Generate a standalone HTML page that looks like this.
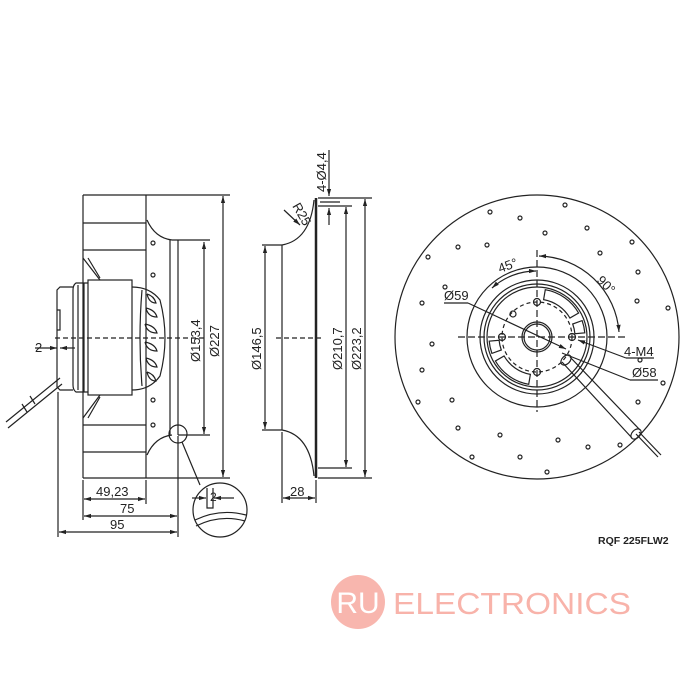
<!DOCTYPE html>
<html><head><meta charset="utf-8"><style>
html,body{margin:0;padding:0;background:#fff;}
svg{display:block}
text{font-family:"Liberation Sans",Arial,sans-serif;fill:#222}
</style></head><body>
<svg width="700" height="700" viewBox="0 0 700 700" xmlns="http://www.w3.org/2000/svg">
<defs>
<marker id="a" viewBox="0 0 10 10" refX="10" refY="5" markerWidth="6" markerHeight="6" orient="auto-start-reverse"><path d="M0,2 L10,5 L0,8 z" fill="#222"/></marker>
</defs>
<g stroke="#222" fill="none" stroke-width="1.2">
<!-- LEFT SIDE VIEW -->
<line x1="83" y1="195" x2="83" y2="478"/>
<line x1="146" y1="195" x2="146" y2="478"/>
<line x1="83" y1="195" x2="230" y2="195"/>
<line x1="83" y1="478" x2="230" y2="478"/>
<line x1="83" y1="223" x2="146" y2="223"/>
<line x1="83" y1="250" x2="146" y2="250"/>
<line x1="83" y1="425" x2="146" y2="425"/>
<line x1="83" y1="452" x2="146" y2="452"/>
<path d="M147,220 Q155,238 172,240"/>
<path d="M147,455 Q155,437 172,435"/>
<line x1="170" y1="240" x2="170" y2="435"/>
<line x1="178" y1="240" x2="178" y2="435"/>
<line x1="172" y1="240" x2="210" y2="240"/>
<line x1="178" y1="435" x2="210" y2="435"/>
<path d="M83,258 L100,280 M88,258 L100,278"/>
<path d="M83,418 L100,395 M88,418 L100,397"/>
<!-- motor -->
<rect x="88" y="280" width="44" height="115"/>
<path d="M88,283 L76,283 Q73,285 73,290 L73,385 Q73,390 76,392 L88,392"/>
<line x1="78" y1="285" x2="78" y2="390"/>
<line x1="84" y1="283" x2="84" y2="392"/>
<path d="M73,287 L60,287 L57,290 L57,387 L60,390 L73,390"/>
<path d="M57,310 L60,310 L60,330 L57,330"/>
<path d="M132,287 Q150,287 160,300 Q170,338 160,376 Q150,390 132,390"/>
<path d="M142,290 Q138,338 142,386"/>
<path d="M147,294 q7,2 9,9 q-7,0 -9,-9 M146,308 q9,2 11,9 q-9,0 -11,-9 M145,324 q10,2 12,9 q-10,0 -12,-9 M145,342 q10,2 12,9 q-10,0 -12,-9 M146,358 q9,2 11,9 q-9,0 -11,-9 M147,372 q7,2 9,9 q-7,0 -9,-9"/>
<!-- cable -->
<path d="M60,378 L6,422 M62,384 L8,428"/>
<path d="M30,396 l5,8 M22,404 l5,8"/>
<line x1="55" y1="338" x2="205" y2="338" stroke-dasharray="5,3"/>
<!-- dims left -->
<line x1="204" y1="242" x2="204" y2="434" marker-start="url(#a)" marker-end="url(#a)"/>
<line x1="223" y1="196" x2="223" y2="477" marker-start="url(#a)" marker-end="url(#a)"/>
<line x1="83" y1="480" x2="83" y2="520"/>
<line x1="58" y1="392" x2="58" y2="537"/>
<line x1="146" y1="480" x2="146" y2="504"/>
<line x1="178" y1="436" x2="178" y2="537"/>
<line x1="84" y1="499" x2="145" y2="499" marker-start="url(#a)" marker-end="url(#a)"/>
<line x1="84" y1="516" x2="177" y2="516" marker-start="url(#a)" marker-end="url(#a)"/>
<line x1="59" y1="532" x2="177" y2="532" marker-start="url(#a)" marker-end="url(#a)"/>
<line x1="35" y1="348" x2="57" y2="348" marker-end="url(#a)"/>
<line x1="75" y1="348" x2="60" y2="348" marker-end="url(#a)"/>
<circle cx="178" cy="434" r="9"/>
<line x1="182" y1="442" x2="200" y2="485"/>
<circle cx="220" cy="510" r="27"/>
<path d="M207,488 L207,508 L213,508 L213,488"/>
<path d="M195,520 Q220,508 246,515"/>
<path d="M196,526 Q220,514 245,521"/>
<line x1="192" y1="498" x2="206" y2="498" marker-end="url(#a)"/>
<line x1="234" y1="498" x2="214" y2="498" marker-end="url(#a)"/>
<!-- MIDDLE INLET -->
<line x1="316" y1="198" x2="316" y2="478" stroke-width="2.5"/>
<path d="M314,200 Q310,240 282,245"/>
<path d="M314,476 Q310,435 282,430"/>
<line x1="282" y1="245" x2="282" y2="430"/>
<line x1="262" y1="245" x2="282" y2="245"/>
<line x1="262" y1="430" x2="282" y2="430"/>
<line x1="265" y1="246" x2="265" y2="429" marker-start="url(#a)" marker-end="url(#a)"/>
<line x1="318" y1="198" x2="372" y2="198"/>
<line x1="318" y1="206" x2="352" y2="206"/>
<line x1="318" y1="468" x2="352" y2="468"/>
<line x1="318" y1="478" x2="372" y2="478"/>
<line x1="346" y1="207" x2="346" y2="467" marker-start="url(#a)" marker-end="url(#a)"/>
<line x1="365" y1="199" x2="365" y2="477" marker-start="url(#a)" marker-end="url(#a)"/>
<line x1="276" y1="338" x2="322" y2="338" stroke-dasharray="5,3"/>
<line x1="282" y1="432" x2="282" y2="503"/>
<line x1="316" y1="480" x2="316" y2="503"/>
<line x1="283" y1="498" x2="315" y2="498" marker-start="url(#a)" marker-end="url(#a)"/>
<line x1="329" y1="150" x2="329" y2="196" marker-end="url(#a)"/>
<line x1="329" y1="225" x2="329" y2="208" marker-end="url(#a)"/>
<line x1="320" y1="202" x2="340" y2="202"/>
<line x1="284" y1="210" x2="300" y2="225" marker-end="url(#a)"/>
<!-- RIGHT FRONT VIEW -->
<circle cx="537" cy="337" r="142"/>
<circle cx="537" cy="337" r="70"/>
<circle cx="537" cy="337" r="57"/>
<circle cx="537" cy="337" r="53"/>
<circle cx="537" cy="337" r="50"/>
<circle cx="537" cy="337" r="15"/>
<circle cx="537" cy="337" r="13"/>
<circle cx="537" cy="337" r="35" stroke-dasharray="4,3"/>
<circle cx="537" cy="302" r="3.5"/><circle cx="537" cy="372" r="3.5"/>
<circle cx="502" cy="337" r="3.5"/><circle cx="572" cy="337" r="3.5"/>
<path d="M545.3,289.7 A48,48 0 0 1 578.6,313 L569.9,318 A38,38 0 0 0 543.6,299.6 Z"/>
<path d="M582.1,320.6 A48,48 0 0 1 584.8,332.8 L574.9,333.7 A38,38 0 0 0 572.7,324 Z"/>
<path d="M528.7,384.3 A48,48 0 0 1 495.4,361 L504.1,356 A38,38 0 0 0 530.4,374.4 Z"/>
<path d="M491.9,353.4 A48,48 0 0 1 489.2,341.2 L499.1,340.3 A38,38 0 0 0 501.3,350 Z"/>
<circle cx="513" cy="314" r="3"/>
<line x1="458" y1="337" x2="625" y2="337" stroke-dasharray="7,3"/>
<line x1="537" y1="250" x2="537" y2="412" stroke-dasharray="7,3"/>
<path d="M539,256 A82,82 0 0 1 619,332" marker-start="url(#a)" marker-end="url(#a)"/>
<path d="M492,288 A66,66 0 0 1 536,271" marker-start="url(#a)" marker-end="url(#a)"/>
<line x1="444" y1="303" x2="468" y2="303"/>
<line x1="468" y1="303" x2="566" y2="349" marker-end="url(#a)"/>
<line x1="654" y1="358" x2="626" y2="358"/>
<line x1="626" y1="358" x2="578" y2="340" marker-end="url(#a)"/>
<line x1="658" y1="380" x2="630" y2="380"/>
<line x1="630" y1="380" x2="562" y2="353"/>
<path d="M562,362 L632,438 M570,357 L640,430"/>
<ellipse cx="566" cy="360" rx="6" ry="4" transform="rotate(-45 566 360)"/>
<ellipse cx="636" cy="434" rx="6" ry="4" transform="rotate(-45 636 434)"/>
<path d="M636,434 L658,457 M639,432 L661,455"/>
</g>
<g fill="none" stroke="#222" stroke-width="1.2">
<circle r="2" cx="565" cy="205"/><circle r="2" cx="490" cy="212"/><circle r="2" cx="520" cy="218"/>
<circle r="2" cx="587" cy="228"/><circle r="2" cx="545" cy="233"/><circle r="2" cx="632" cy="242"/>
<circle r="2" cx="458" cy="247"/><circle r="2" cx="487" cy="245"/><circle r="2" cx="600" cy="253"/>
<circle r="2" cx="428" cy="257"/><circle r="2" cx="638" cy="272"/><circle r="2" cx="445" cy="287"/>
<circle r="2" cx="422" cy="303"/><circle r="2" cx="637" cy="301"/><circle r="2" cx="668" cy="308"/>
<circle r="2" cx="432" cy="344"/><circle r="2" cx="640" cy="360"/><circle r="2" cx="422" cy="370"/>
<circle r="2" cx="663" cy="383"/><circle r="2" cx="452" cy="400"/><circle r="2" cx="638" cy="402"/>
<circle r="2" cx="418" cy="402"/><circle r="2" cx="458" cy="428"/><circle r="2" cx="500" cy="435"/>
<circle r="2" cx="558" cy="440"/><circle r="2" cx="588" cy="447"/><circle r="2" cx="620" cy="445"/>
<circle r="2" cx="472" cy="457"/><circle r="2" cx="520" cy="457"/><circle r="2" cx="547" cy="472"/>
<circle r="2" cx="153" cy="243"/><circle r="2" cx="153" cy="275"/><circle r="2" cx="153" cy="400"/>
<circle r="2" cx="153" cy="425"/>
</g>
<!-- text -->
<g font-size="13">
<text x="35" y="352">2</text>
<text x="96" y="496">49,23</text>
<text x="120" y="513">75</text>
<text x="110" y="529">95</text>
<text x="210" y="501" font-size="12">2</text>
<text x="290" y="496">28</text>
<text transform="translate(200,362) rotate(-90)">Ø153,4</text>
<text transform="translate(219,357) rotate(-90)">Ø227</text>
<text transform="translate(261,370) rotate(-90)">Ø146,5</text>
<text transform="translate(342,370) rotate(-90)">Ø210,7</text>
<text transform="translate(361,370) rotate(-90)">Ø223,2</text>
<text transform="translate(326,192) rotate(-90)">4-Ø4,4</text>
<text transform="translate(292,206) rotate(60)">R25</text>
<text transform="translate(500,273) rotate(-20)">45°</text>
<text transform="translate(596,281) rotate(45)">90°</text>
<text x="444" y="300">Ø59</text>
<text x="624" y="356">4-M4</text>
<text x="632" y="377">Ø58</text>
<text x="598" y="544" font-size="10.5" font-weight="bold" fill="#111">RQF 225FLW2</text>
</g>
<circle cx="358" cy="602" r="27" fill="#f7a9a0" opacity="0.85"/>
<text x="358" y="613" text-anchor="middle" font-size="30" style="fill:#fff">RU</text>
<text x="393" y="614" font-size="31" style="fill:#f8b3aa" textLength="238" lengthAdjust="spacingAndGlyphs">ELECTRONICS</text>
</svg>
</body></html>
